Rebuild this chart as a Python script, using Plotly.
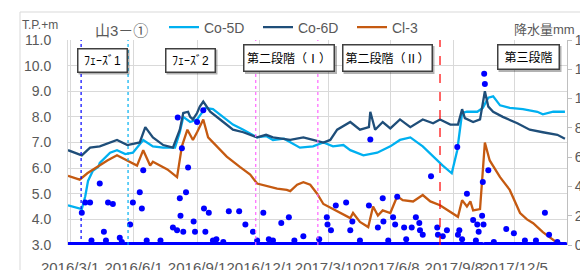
import plotly.graph_objects as go
import pandas as pd

# ---------------- data ----------------
co5d_dates = ["2016-02-27","2016-03-11","2016-03-18","2016-03-23","2016-03-27","2016-04-03","2016-04-11","2016-04-13",
              "2016-04-28","2016-05-08","2016-05-20","2016-05-31","2016-06-15","2016-06-29","2016-07-14","2016-07-31",
              "2016-08-07","2016-08-12","2016-08-22","2016-09-01","2016-09-13","2016-09-24","2016-10-09","2016-10-23",
              "2016-11-07","2016-11-27","2016-12-10","2016-12-20","2017-01-05","2017-01-14","2017-01-28","2017-02-16",
              "2017-03-03","2017-03-17","2017-04-01","2017-04-11","2017-04-30","2017-05-20","2017-06-08","2017-06-22",
              "2017-07-07","2017-07-25","2017-08-09","2017-08-15","2017-08-23","2017-09-05","2017-09-10","2017-09-13",
              "2017-09-20","2017-09-27","2017-10-12","2017-10-20","2017-10-28","2017-11-04","2017-11-14","2017-11-28",
              "2017-12-17","2018-01-07","2018-01-15","2018-01-30","2018-02-16"]
co5d_vals = [4.55,4.45,4.4,4.9,5.5,5.9,6.05,6.2,
             6.6,6.7,6.55,6.6,7.1,6.85,6.8,6.8,
             7.4,8.0,7.8,7.9,8.35,8.3,8.0,7.7,
             7.5,7.2,7.25,7.1,7.15,7.0,6.8,6.85,
             7.0,6.85,6.9,6.7,6.5,6.6,6.85,7.1,
             7.2,6.85,6.45,6.3,6.1,5.8,6.3,6.7,
             8.15,8.2,8.2,8.35,8.75,8.8,8.45,8.35,
             8.3,8.2,8.1,8.2,8.2]

co6d_dates = ["2016-02-27","2016-03-18","2016-03-30","2016-04-13","2016-05-08","2016-05-23","2016-06-10","2016-06-18",
              "2016-06-29","2016-07-14","2016-07-28","2016-08-07","2016-08-12","2016-08-19","2016-08-22","2016-08-26",
              "2016-09-01","2016-09-05","2016-09-10","2016-09-20","2016-10-09","2016-10-23","2016-11-07","2016-11-27",
              "2016-12-10","2016-12-20","2017-01-14","2017-02-02","2017-02-16","2017-03-03","2017-03-13","2017-03-23",
              "2017-04-11","2017-04-25","2017-05-08","2017-05-10","2017-05-17","2017-05-28","2017-06-08","2017-06-22",
              "2017-07-07","2017-07-25","2017-08-09","2017-08-19","2017-09-03","2017-09-14","2017-09-20","2017-09-24",
              "2017-10-06","2017-10-16","2017-10-23","2017-10-28","2017-11-04","2017-11-18","2017-12-09","2017-12-27",
              "2018-01-15","2018-02-05","2018-02-16"]
co6d_vals = [6.7,6.5,6.8,6.85,7.1,6.9,7.0,7.6,
             7.2,6.9,6.8,7.5,8.15,8.2,8.0,7.9,
             8.15,8.4,8.6,8.2,7.8,7.5,7.4,7.2,
             7.3,7.2,7.1,7.2,7.1,7.0,7.1,7.5,
             7.8,7.5,7.6,8.2,7.5,7.8,7.55,7.9,
             7.6,7.9,7.75,7.9,7.7,7.7,8.3,7.95,
             7.8,7.9,9.0,8.4,8.2,8.0,7.75,7.5,
             7.4,7.3,7.15]

cl3_dates = ["2016-02-27","2016-03-15","2016-03-26","2016-04-09","2016-04-24","2016-05-08","2016-05-23","2016-06-06",
             "2016-06-15","2016-06-25","2016-06-29","2016-07-20","2016-08-03","2016-08-07","2016-08-10","2016-08-18",
             "2016-08-26","2016-09-01","2016-09-10","2016-09-17","2016-09-30","2016-10-14","2016-11-02","2016-11-17",
             "2016-11-27","2016-12-11","2016-12-26","2017-01-09","2017-01-14","2017-01-24","2017-02-02","2017-02-12",
             "2017-02-22","2017-03-03","2017-03-17","2017-04-01","2017-04-11","2017-04-15","2017-04-25","2017-05-07",
             "2017-05-14","2017-05-21","2017-05-28","2017-06-08","2017-06-18","2017-06-26","2017-07-11","2017-07-25",
             "2017-08-05","2017-08-19","2017-09-03","2017-09-14","2017-09-20","2017-09-27","2017-10-02","2017-10-06",
             "2017-10-16","2017-10-20","2017-10-23","2017-10-30","2017-11-14","2017-11-28","2017-12-13","2017-12-23",
             "2018-01-01","2018-01-15","2018-01-30","2018-02-09"]
cl3_vals = [5.7,5.55,5.8,6.05,6.3,6.5,6.3,6.1,
            6.7,6.1,6.25,5.95,5.65,6.25,6.85,7.5,
            7.1,7.4,7.9,7.2,6.85,6.45,6.05,5.75,
            5.4,5.3,5.2,5.15,5.1,5.35,5.45,5.35,
            5.0,4.6,4.4,4.2,4.05,4.25,3.9,3.7,
            4.5,4.15,4.35,4.25,4.9,4.75,4.7,4.95,
            4.7,4.55,4.3,4.1,4.75,4.5,4.7,4.35,
            4.4,5.8,7.0,6.3,5.65,5.15,4.25,4.0,
            3.85,3.5,3.2,3.0]

rain_dates = ["2016-03-18","2016-03-23","2016-03-30","2016-04-01","2016-04-13","2016-04-19","2016-04-22","2016-04-25",
              "2016-05-02","2016-05-12","2016-05-15","2016-05-27","2016-05-31","2016-06-10","2016-06-13","2016-06-15",
              "2016-06-20","2016-07-10","2016-07-28","2016-08-03","2016-08-04","2016-08-07","2016-08-08","2016-08-10",
              "2016-08-12","2016-08-16","2016-08-19","2016-08-27","2016-08-29","2016-09-01","2016-09-10","2016-09-11",
              "2016-09-13","2016-09-18","2016-09-24","2016-09-29","2016-10-09","2016-10-17","2016-11-01","2016-11-10",
              "2016-11-21","2016-11-27","2016-12-06","2016-12-14","2016-12-20","2017-01-01","2017-01-12","2017-01-20",
              "2017-02-02","2017-02-25","2017-03-08","2017-03-09","2017-03-14","2017-03-21","2017-04-05","2017-04-11",
              "2017-04-14","2017-04-25","2017-05-08","2017-05-10","2017-05-21","2017-05-28","2017-05-29","2017-06-05",
              "2017-06-12","2017-06-15","2017-06-18","2017-06-28","2017-07-01","2017-07-09","2017-07-15","2017-07-20",
              "2017-07-21","2017-07-25","2017-08-06","2017-08-15","2017-08-16","2017-08-23","2017-08-29","2017-09-13",
              "2017-09-14","2017-09-16","2017-09-20","2017-09-27","2017-10-06","2017-10-10","2017-10-12","2017-10-14",
              "2017-10-19","2017-10-20","2017-10-21","2017-10-22","2017-10-23","2017-10-28","2017-11-05","2017-11-23",
              "2017-12-04","2017-12-20","2018-01-05","2018-01-18","2018-01-24","2018-02-05"]
rain_mm = [22,29,29,3,42,9,3,29,
           28,5,2,14,29,36,25,51,
           3,3,12,10,87,32,20,66,
           9,36,53,16,9,84,92,25,
           9,22,3,4,2,23,23,14,
           9,3,22,4,3,15,19,3,
           6,4,19,14,10,27,29,10,
           16,3,27,72,12,32,16,3,
           19,14,33,12,4,12,19,15,
           10,7,47,12,7,6,10,67,
           7,10,4,35,17,3,14,9,
           20,43,14,117,110,51,2,11,
           8,3,3,22,7,2]
rain_first, rain_last = "2016-02-27", "2018-02-16"

tick_dates = ["2016-03-01","2016-06-01","2016-09-01","2016-12-01","2017-03-10","2017-06-08","2017-09-08","2017-12-05"]
tick_text = ["2016/3/1","2016/6/1","2016/9/1","2016/12/1","2017/3/10","2017/6/8","2017/9/8","2017/12/5"]

event_dates = ["2016-03-17","2016-05-24","2016-11-25","2017-02-23","2017-08-19"]
event_colors = ["#0000FF","#00B0F0","#FF66FF","#FF66FF","#FF0000"]
event_dash = ["dot","dot","dot","dot","dash"]

phase_labels = ["ﾌｪｰｽﾞ1","ﾌｪｰｽﾞ2","第二段階（Ⅰ）","第二段階（Ⅱ）","第三段階"]

# ---------------- figure ----------------
# page body has an 8px margin, so the figure is drawn 8px smaller and all
# reference pixel positions are shifted by that offset
OFF = 8
W, H = 580, 262
L, R, T, B = 60, 21, 32, 25
pw, ph = W - L - R, H - T - B
def px(x): return (x - OFF - L) / pw
def py(y): return (H - B - (y - OFF)) / ph

FONT = "Liberation Sans, Arial, Noto Sans CJK JP, sans-serif"
GREY = "#595959"

rain_series = pd.Series(0.0, index=pd.date_range(rain_first, rain_last, freq="D"))
rain_series.loc[pd.to_datetime(rain_dates)] = rain_mm

fig = go.Figure()
fig.add_trace(go.Scatter(x=co5d_dates, y=co5d_vals, name="Co-5D", mode="lines",
                         line=dict(color="#00B0F0", width=2.3)))
fig.add_trace(go.Scatter(x=co6d_dates, y=co6d_vals, name="Co-6D", mode="lines",
                         line=dict(color="#1F4E79", width=2.3)))
fig.add_trace(go.Scatter(x=cl3_dates, y=cl3_vals, name="Cl-3", mode="lines",
                         line=dict(color="#C55A11", width=2.3)))
fig.add_trace(go.Scatter(x=rain_series.index, y=rain_series.values, name="降水量", mode="markers",
                         marker=dict(color="#0000FF", size=6), yaxis="y2", showlegend=False))

shapes = []
for d, c, ds in zip(event_dates, event_colors, event_dash):
    shapes.append(dict(type="line", xref="x", yref="paper", x0=d, x1=d, y0=0, y1=1,
                       line=dict(color=c, width=1.2, dash=ds), layer="above"))

# phase label boxes (reference pixel centers / sizes)
boxes = [(102, 60, 51, 25), (190, 60, 51, 25), (289, 58, 92, 28), (387, 58, 91, 28), (528, 57, 63, 26)]
annotations = []
for (cx, cy, bw, bh), txt in zip(boxes, phase_labels):
    shapes.append(dict(type="rect", xref="paper", yref="paper",
                       x0=px(cx - bw / 2 + 2), x1=px(cx + bw / 2 + 2),
                       y0=py(cy + bh / 2 + 2), y1=py(cy - bh / 2 + 2),
                       line=dict(width=0), fillcolor="rgba(0,0,0,0.3)", layer="above"))
    annotations.append(dict(x=px(cx), y=py(cy), xref="paper", yref="paper", text=txt, showarrow=False,
                            font=dict(family=FONT, size=12, color="#000000"),
                            bgcolor="white", bordercolor="#404040", borderwidth=1.5, borderpad=2,
                            width=bw - 7, height=bh - 7, xanchor="center", yanchor="middle"))

annotations += [
    dict(x=px(93), y=py(31), xref="paper", yref="paper", text="山3－①", showarrow=False,
         xanchor="left", yanchor="middle", font=dict(family=FONT, size=15, color=GREY)),
    dict(x=px(20), y=py(25), xref="paper", yref="paper", text="T.P.+m", showarrow=False,
         xanchor="left", yanchor="middle", font=dict(family=FONT, size=12, color=GREY)),
    dict(x=px(512), y=py(30), xref="paper", yref="paper", text="降水量mm", showarrow=False,
         xanchor="left", yanchor="middle", font=dict(family=FONT, size=13, color=GREY)),
]

# outer chart frame
shapes.append(dict(type="rect", xref="paper", yref="paper", x0=px(20), x1=px(700), y0=py(400), y1=py(12),
                   line=dict(color="#D9D9D9", width=1), fillcolor="rgba(0,0,0,0)", layer="below"))

fig.update_layout(
    width=W, height=H, margin=dict(l=L, r=R, t=T, b=B, pad=0, autoexpand=False),
    paper_bgcolor="white", plot_bgcolor="white",
    font=dict(family=FONT, size=14, color=GREY),
    showlegend=True,
    legend=dict(orientation="h", xref="container", yref="container", x=(164 - OFF) / W, y=1 - 19.5 / H,
                xanchor="left", yanchor="middle", font=dict(family=FONT, size=14, color=GREY),
                bgcolor="rgba(0,0,0,0)", entrywidth=49, entrywidthmode="pixels", itemwidth=30),
    xaxis=dict(type="date", range=["2016-02-27", "2018-02-19"], tickvals=tick_dates, ticktext=tick_text,
               tickangle=0, automargin=False, ticklabeloverflow="allow",
               showgrid=True, gridcolor="#D9D9D9", gridwidth=1, ticks="outside", ticklen=9,
               tickcolor="rgba(0,0,0,0)", tickfont=dict(size=15, color=GREY), zeroline=False,
               showline=False),
    yaxis=dict(range=[3, 11], dtick=1, tickformat=".1f", showgrid=True, gridcolor="#D9D9D9",
               automargin=False,
               ticks="outside", ticklen=13, tickcolor="rgba(0,0,0,0)", tickfont=dict(size=14, color=GREY),
               showline=True, linecolor="#D9D9D9", zeroline=False),
    yaxis2=dict(overlaying="y", side="right", range=[0, 140], dtick=20, showgrid=False,
                automargin=False, ticklabeloverflow="allow",
                ticks="outside", ticklen=4, tickcolor="#BFBFBF", tickfont=dict(size=14, color=GREY),
                showline=True, linecolor="#BFBFBF", zeroline=False),
    shapes=shapes, annotations=annotations,
)

fig.write_html("out.html")
